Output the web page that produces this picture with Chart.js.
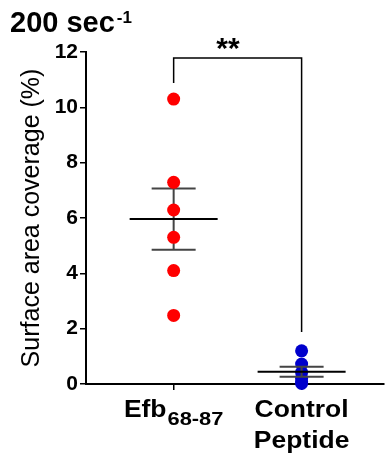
<!DOCTYPE html>
<html>
<head>
<meta charset="utf-8">
<script src="https://cdn.jsdelivr.net/npm/chart.js@4/dist/chart.umd.min.js"></script>
<style>
  html, body { margin: 0; padding: 0; background: #fff; }
  #chart { display: block; }
</style>
</head>
<body>
<canvas id="chart" width="390" height="455"></canvas>
<script>
// group positions on the x scale and their labels
const groups = [1, 2];
const groupMain = ['Efb', 'Control'];
const groupSub = ['68-87', ''];
const groupLine2 = ['', 'Peptide'];

// individual measurements (% surface area coverage)
const efbValues = [10.3, 7.29, 6.29, 5.3, 4.1, 2.48];
const controlValues = [1.2, 0.72, 0.42, 0.2, 0.08, 0.02];

// mean and SEM per group, as drawn
const means = [5.96, 0.44];
const sems = [1.11, 0.18];

const yTicks = [0, 2, 4, 6, 8, 10, 12];

// significance bracket (y values on the data scale)
const bracketTop = 11.78;
const bracketLeftEnd = 10.88;
const bracketRightEnd = 1.88;
const sigLabel = '**';

const FONT = 'Liberation Sans, Arial, sans-serif';

function drawStretched(ctx, text, x, y, font, sx) {
  ctx.save();
  ctx.font = font;
  ctx.translate(x, y);
  ctx.scale(sx, 1);
  ctx.fillText(text, 0, 0);
  ctx.restore();
}

function drawErrorBar(chart, i) {
  const ctx = chart.ctx;
  const xs = chart.scales.x, ys = chart.scales.y;
  const cx = xs.getPixelForValue(groups[i]);
  const m = ys.getPixelForValue(means[i]);
  const hi = ys.getPixelForValue(means[i] + sems[i]);
  const lo = ys.getPixelForValue(means[i] - sems[i]);
  ctx.save();
  ctx.lineWidth = 2;
  ctx.strokeStyle = '#444';
  ctx.beginPath();
  ctx.moveTo(cx, hi); ctx.lineTo(cx, lo);
  ctx.moveTo(cx - 22, hi); ctx.lineTo(cx + 22, hi);
  ctx.moveTo(cx - 22, lo); ctx.lineTo(cx + 22, lo);
  ctx.stroke();
  ctx.strokeStyle = '#000';
  ctx.beginPath();
  ctx.moveTo(cx - 44, m); ctx.lineTo(cx + 44, m);
  ctx.stroke();
  ctx.restore();
}

const extras = {
  id: 'extras',
  beforeDatasetsDraw(chart) {
    drawErrorBar(chart, 0);
  },
  afterDatasetsDraw(chart) {
    drawErrorBar(chart, 1);
  },
  afterDraw(chart) {
    const ctx = chart.ctx;
    const xs = chart.scales.x, ys = chart.scales.y;
    const x1 = xs.getPixelForValue(groups[0]);
    const x2 = xs.getPixelForValue(groups[1]);

    // bracket
    ctx.save();
    ctx.strokeStyle = '#000';
    ctx.lineWidth = 1.5;
    ctx.beginPath();
    ctx.moveTo(x1, ys.getPixelForValue(bracketLeftEnd));
    ctx.lineTo(x1, ys.getPixelForValue(bracketTop));
    ctx.lineTo(x2, ys.getPixelForValue(bracketTop));
    ctx.lineTo(x2, ys.getPixelForValue(bracketRightEnd));
    ctx.stroke();

    ctx.fillStyle = '#000';
    ctx.textBaseline = 'alphabetic';
    ctx.textAlign = 'left';
    ctx.font = 'bold 30px ' + FONT;
    const sw = ctx.measureText(sigLabel).width;
    ctx.fillText(sigLabel, 228 - sw / 2, 58);

    // title with superscript
    ctx.font = 'bold 29px ' + FONT;
    ctx.fillText('200 sec', 10, 32);
    const tw = ctx.measureText('200 sec').width;
    ctx.font = 'bold 17px ' + FONT;
    ctx.fillText('-1', 10 + tw + 2, 23);

    // x labels with subscripts
    const sx = 1.15;
    groups.forEach((g, i) => {
      const cx = xs.getPixelForValue(g);
      const mainFont = 'bold 23px ' + FONT;
      const subFont = 'bold 19px ' + FONT;
      ctx.font = mainFont;
      const w1 = ctx.measureText(groupMain[i]).width * sx;
      ctx.font = subFont;
      const w2 = groupSub[i] ? ctx.measureText(groupSub[i]).width * sx + 1 : 0;
      const left = cx - (w1 + w2) / 2;
      drawStretched(ctx, groupMain[i], left, 417, mainFont, sx);
      if (groupSub[i]) drawStretched(ctx, groupSub[i], left + w1 + 1, 425, subFont, sx);
      if (groupLine2[i]) {
        ctx.font = mainFont;
        const w3 = ctx.measureText(groupLine2[i]).width * sx;
        drawStretched(ctx, groupLine2[i], cx - w3 / 2, 448, mainFont, sx);
      }
    });
    ctx.restore();
  }
};

new Chart(document.getElementById('chart'), {
  type: 'scatter',
  data: {
    datasets: [
      {
        label: 'Efb68-87',
        data: efbValues.map(v => ({ x: groups[0], y: v })),
        backgroundColor: '#ff0000',
        borderWidth: 0,
        pointRadius: 6.5,
        clip: false
      },
      {
        label: 'Control Peptide',
        data: controlValues.map(v => ({ x: groups[1], y: v })),
        backgroundColor: '#0000cc',
        borderWidth: 0,
        pointRadius: 6.5,
        clip: false
      }
    ]
  },
  options: {
    responsive: false,
    animation: false,
    events: [],
    layout: { padding: { top: 52, right: 2, left: 0, bottom: 0 } },
    plugins: {
      legend: { display: false },
      tooltip: { enabled: false }
    },
    scales: {
      x: {
        type: 'linear',
        min: 0.315,
        max: 2.64,
        afterBuildTicks: s => { s.ticks = groups.map(v => ({ value: v })); },
        afterFit: s => { s.height = 71; },
        border: { color: '#000', width: 2 },
        grid: { display: true, drawOnChartArea: false, drawTicks: true, tickLength: 6, color: '#000', lineWidth: 1.5 },
        ticks: { callback: () => '', padding: 0 }
      },
      y: {
        min: 0,
        max: 12,
        afterBuildTicks: s => { s.ticks = yTicks.map(v => ({ value: v })); },
        afterFit: s => { s.width = 86; },
        border: { color: '#000', width: 2 },
        grid: { display: true, drawOnChartArea: false, drawTicks: true, tickLength: 6, color: '#000', lineWidth: 1.5 },
        ticks: {
          color: '#000',
          padding: 2,
          font: { family: FONT, size: 21, weight: 'bold' }
        },
        title: {
          display: true,
          text: 'Surface area coverage (%)',
          color: '#000',
          font: { family: FONT, size: 25 },
          padding: { top: 17, bottom: 0 }
        }
      }
    }
  },
  plugins: [extras]
});
</script>
</body>
</html>
